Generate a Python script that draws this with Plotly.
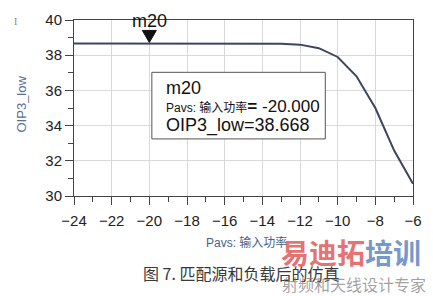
import plotly.graph_objects as go

# ---- data ----
pavs = [-24, -23, -22, -21, -20, -19, -18, -17, -16, -15, -14, -13, -12, -11, -10, -9, -8, -7, -6]
oip3_low = [38.668, 38.668, 38.668, 38.668, 38.668, 38.668, 38.668, 38.668, 38.668, 38.667,
            38.665, 38.65, 38.60, 38.40, 37.90, 36.80, 35.00, 32.58, 30.70]
marker_name = "m20"
marker_x = -20
marker_y = 38.668
x_ticks = [-24, -22, -20, -18, -16, -14, -12, -10, -8, -6]
y_ticks = [30, 32, 34, 36, 38, 40]

FONT = "Liberation Sans, Arial, sans-serif"
CJK = "Liberation Sans, Noto Sans CJK SC, sans-serif"

# plot area in pixels: left 74, right 418, top 11, bottom 196
def px_to_paper(px, py):
    return (px - 74) / 344.0, (196 - py) / 185.0

fig = go.Figure()
fig.add_trace(go.Scatter(x=pavs, y=oip3_low, mode="lines",
                         line=dict(color="#3b4560", width=2), hoverinfo="skip"))

axis_common = dict(
    showline=True, linecolor="#444444", linewidth=1, mirror=True,
    ticks="outside", ticklen=8, tickcolor="#444444", tickwidth=1,
    showgrid=True, gridcolor="#d9d9d9", gridwidth=1, zeroline=False,
    tickfont=dict(family=FONT, size=15, color="#222222"),
    minor=dict(ticks="outside", ticklen=5, tickcolor="#444444", dtick=1, showgrid=False),
)

fig.update_xaxes(range=[-24, -6], tickvals=x_ticks, ticklabelstandoff=3, **axis_common)
fig.update_yaxes(range=[30, 40], tickvals=y_ticks, **axis_common)

# marker triangle (pixel-sized, anchored at marker data point)
fig.add_shape(type="path", xsizemode="pixel", ysizemode="pixel",
              xanchor=marker_x, yanchor=marker_y, xref="x", yref="y",
              path="M-7,13 L7,13 L0,1 Z", fillcolor="#111111", line=dict(color="#111111", width=1))

fig.add_annotation(x=marker_x, y=marker_y, xref="x", yref="y", text=marker_name, showarrow=False,
                   yanchor="bottom", yshift=10, font=dict(family=FONT, size=18, color="#111111"))

# marker readout box
bx0, by0 = px_to_paper(153, 136)
bx1, by1 = px_to_paper(329, 66)
fig.add_shape(type="rect", xref="paper", yref="paper", x0=bx0, x1=bx1, y0=by0, y1=by1,
              line=dict(color="#555555", width=1), fillcolor="white", layer="above")

tx, ty1 = px_to_paper(165, 82)
_, ty2 = px_to_paper(165, 102)
_, ty3 = px_to_paper(165, 122)
fig.add_annotation(x=tx, y=ty1, xref="paper", yref="paper", xanchor="left", yanchor="middle",
                   text=marker_name, showarrow=False, font=dict(family=FONT, size=18, color="#111111"))
fig.add_annotation(x=tx, y=ty2, xref="paper", yref="paper", xanchor="left", yanchor="middle",
                   text="<span style='font-size:12px'>Pavs: 输入功率</span>" + f"<b>=</b> {marker_x:.3f}",
                   showarrow=False, font=dict(family=CJK, size=17, color="#111111"))
fig.add_annotation(x=tx, y=ty3, xref="paper", yref="paper", xanchor="left", yanchor="middle",
                   text=f"OIP3_low={marker_y:.3f}", showarrow=False,
                   font=dict(family=FONT, size=18, color="#111111"))

# axis titles
xtx, xty = px_to_paper(249, 245)
fig.add_annotation(x=xtx, y=xty, xref="paper", yref="paper", xanchor="center", yanchor="middle",
                   text="Pavs: 输入功率", showarrow=False, font=dict(family=CJK, size=12, color="#4a5f8a"))
ytx, yty = px_to_paper(21, 99)
fig.add_annotation(x=ytx, y=yty, xref="paper", yref="paper", xanchor="center", yanchor="middle",
                   text="OIP3_low", showarrow=False, textangle=-90,
                   font=dict(family=FONT, size=13, color="#5a6e96"))

# caption and watermark
cx, cy = px_to_paper(142, 277)
fig.add_annotation(x=cx, y=cy, xref="paper", yref="paper", xanchor="left", yanchor="middle",
                   text="图 7. 匹配源和负载后的仿真", showarrow=False,
                   font=dict(family="Noto Sans CJK SC", size=16, color="#3a3a3a"))
wx, wy = px_to_paper(282, 255)
fig.add_annotation(x=wx, y=wy, xref="paper", yref="paper", xanchor="left", yanchor="middle",
                   text="<b><span style='color:rgba(225,75,75,0.8)'>易迪拓</span><span style='color:rgba(80,125,190,0.8)'>培训</span></b>",
                   showarrow=False, font=dict(family="Noto Sans CJK SC", size=28, color="#d05050"))
w2x, w2y = px_to_paper(283, 288)
fig.add_annotation(x=w2x, y=w2y, xref="paper", yref="paper", xanchor="left", yanchor="middle",
                   text="射频和天线设计专家", showarrow=False,
                   font=dict(family="Noto Sans CJK SC", size=16, color="rgba(120,120,120,0.7)"))
ix, iy = px_to_paper(15, 13)
fig.add_annotation(x=ix, y=iy, xref="paper", yref="paper", xanchor="center", yanchor="middle",
                   text="I", showarrow=False,
                   font=dict(family="Liberation Serif", size=10, color="#888888"))

fig.update_layout(
    width=433, height=296,
    margin=dict(l=74, r=15, t=11, b=100, pad=0),
    paper_bgcolor="white", plot_bgcolor="white",
    showlegend=False,
)

fig.write_html("out.html")
